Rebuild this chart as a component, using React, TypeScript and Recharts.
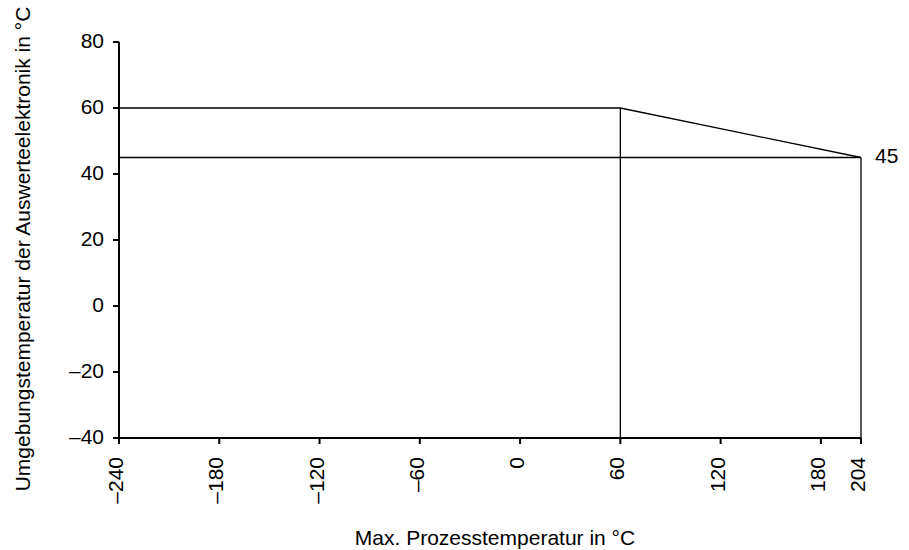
import { Label, Line, LineChart, XAxis, YAxis } from "recharts";

const xTicks = [-240, -180, -120, -60, 0, 60, 120, 180, 204];
const yTicks = [-40, -20, 0, 20, 40, 60, 80];

// upper limit: 60 °C up to 60 °C process temp, then falling to 45 at 204
const upperLimit = [
  { x: -240, y: 60 },
  { x: 60, y: 60 },
  { x: 204, y: 45 },
];
const lowerLimit = [
  { x: -240, y: 45 },
  { x: 204, y: 45 },
];
const vertAt60 = [
  { x: 60, y: -40 },
  { x: 60, y: 60 },
];
const vertAt204 = [
  { x: 204, y: -40 },
  { x: 204, y: 45 },
];

const FONT = "'Liberation Sans', Arial, sans-serif";
const FS = 21;
const dash = (v: number) => String(v).replace("-", "\u2013");

function XTick(props: any) {
  const { x, y, payload } = props;
  const tx = x + 4;
  const ty = y + 11;
  return (
    <text
      x={tx}
      y={ty}
      transform={`rotate(-90 ${tx} ${ty})`}
      textAnchor="end"
      fontSize={FS}
      fontFamily={FONT}
      fill="#000"
    >
      {dash(payload.value)}
    </text>
  );
}

function YTick(props: any) {
  const { x, y, payload } = props;
  return (
    <text
      x={x}
      y={y - 2}
      textAnchor="end"
      dominantBaseline="central"
      fontSize={FS}
      fontFamily={FONT}
      fill="#000"
    >
      {dash(payload.value)}
    </text>
  );
}

export default function App() {
  const lineProps = {
    dataKey: "y",
    stroke: "#000",
    strokeWidth: 1.3,
    dot: false,
    isAnimationActive: false,
    type: "linear" as const,
  };
  return (
    <div style={{ position: "absolute", left: 0, top: 0, background: "#fff" }}>
      <LineChart width={909} height={550} margin={{ top: 42, right: 48, bottom: 0, left: 0 }}>
        <XAxis
          type="number"
          dataKey="x"
          domain={[-240, 204]}
          ticks={xTicks}
          interval={0}
          height={112}
          stroke="#000"
          strokeWidth={2}
          tickSize={6}
          tick={<XTick />}
        >
          <Label
            content={() => (
              <text x={495} y={545} textAnchor="middle" fontSize={FS} fontFamily={FONT} fill="#000">
                Max. Prozesstemperatur in °C
              </text>
            )}
          />
        </XAxis>
        <YAxis
          type="number"
          domain={[-40, 80]}
          ticks={yTicks}
          interval={0}
          width={119}
          stroke="#000"
          strokeWidth={2}
          tickSize={6}
          tickMargin={9}
          tick={<YTick />}
        >
          <Label
            content={() => (
              <text
                x={30}
                y={249}
                transform="rotate(-90 30 249)"
                textAnchor="middle"
                fontSize={FS}
                fontFamily={FONT}
                fill="#000"
              >
                Umgebungstemperatur der Auswerteelektronik in °C
              </text>
            )}
          />
        </YAxis>
        <Line {...lineProps} data={upperLimit} />
        <Line
          {...lineProps}
          data={lowerLimit}
          label={(p: any) =>
            p.index === lowerLimit.length - 1 ? (
              <text
                key="lbl45"
                x={p.x + 14}
                y={p.y - 2}
                dominantBaseline="central"
                fontSize={FS}
                fontFamily={FONT}
                fill="#000"
              >
                {p.value}
              </text>
            ) : (
              <g key={`l${p.index}`} />
            )
          }
        />
        <Line {...lineProps} data={vertAt60} />
        <Line {...lineProps} data={vertAt204} />
      </LineChart>
    </div>
  );
}
